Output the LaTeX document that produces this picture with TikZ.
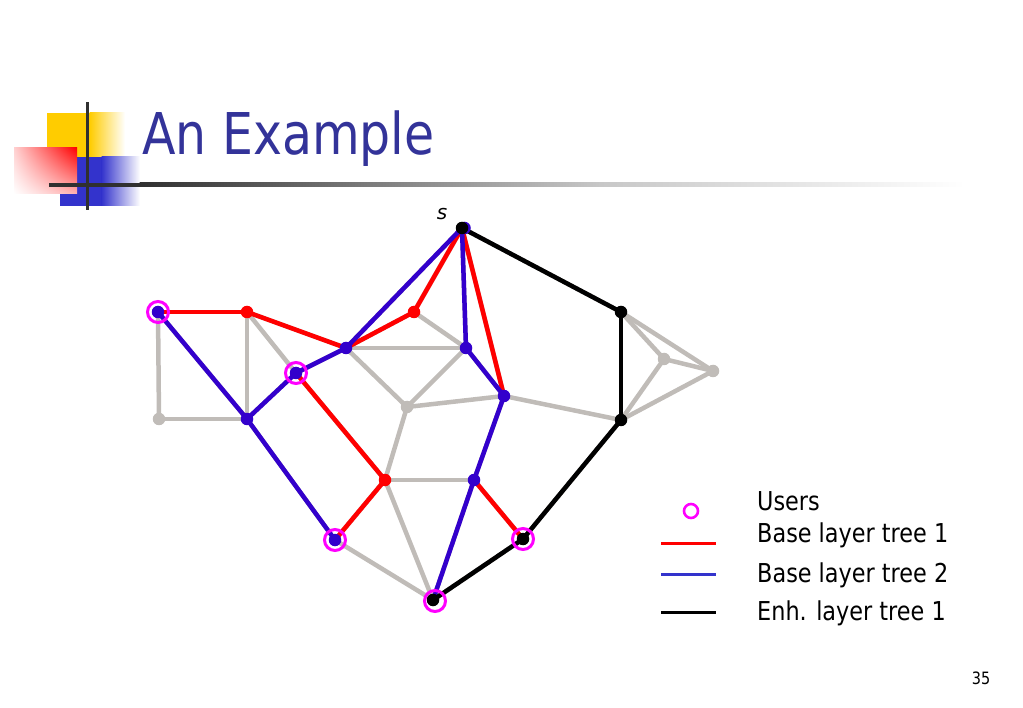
\documentclass[tikz,border=0pt]{standalone}
\usepackage{fontspec}
\setmainfont{DejaVu Sans}
\usetikzlibrary{calc,shadings}
\definecolor{ttl}{RGB}{51,51,153}
\definecolor{tblue}{RGB}{51,0,204}
\definecolor{tgray}{RGB}{192,188,184}
\definecolor{tyel}{RGB}{255,204,0}
\definecolor{dblue}{RGB}{51,51,204}
\definecolor{dline}{RGB}{48,48,48}
\definecolor{tmag}{RGB}{255,0,255}
\definecolor{tred}{RGB}{255,0,0}
\pgfdeclarelayer{grayl}
\pgfdeclarelayer{coll}
\pgfsetlayers{grayl,coll,main}
\tikzset{
  gedge/.style={line width=4.5pt, tgray, xshift=1.4pt, yshift=-0.8pt},
  redge/.style={line width=4.5pt, tred},
  bedge/.style={line width=4.5pt, tblue},
  kedge/.style={line width=4.5pt, black},
  dot/.style={circle, inner sep=0pt, minimum size=12.5pt, draw=none},
  user/.style={circle, inner sep=0pt, minimum size=21pt, draw=tmag, line width=3pt},
  legtext/.style={anchor=base west, inner sep=0pt, font=\fontsize{26}{30}\selectfont},
}
\newcommand{\tsq}[2]{\scalebox{#1}[1]{#2}}
\begin{document}
\begin{tikzpicture}[x=1pt,y=-1pt]
\useasboundingbox (0,0) rectangle (1023,708);
% ---- title decoration
\fill[tyel] (47,113) rectangle (90,157);
\shade[left color=tyel, right color=white] (89.5,113) rectangle (125,157);
\fill[dblue] (60,157) rectangle (102,206);
\shade[left color=dblue, right color=white] (101.5,157) rectangle (140,206);
\shade[upper left=tred!18, upper right=tred, lower left=white, lower right=tred!30] (14,148) rectangle (77,194);
\fill[dline] (49,183) rectangle (140,187);
\shade[left color=dline, right color=black!22] (139.5,183) rectangle (600,187);
\shade[left color=black!22, right color=white] (599.5,183) rectangle (965,187);
\fill[dline] (85.5,102) rectangle (88.5,210);
\node[anchor=base west, inner sep=0pt, text=ttl, font=\fontsize{57.6}{60}\selectfont] (title) at (142,155) {\tsq{0.85}{An Example}};
% ---- nodes
\node[dot, fill=tblue] (sb) at (464.5,228) {};
\node[dot, fill=black] (s) at (462,228) {};
\node[anchor=base, inner sep=0pt, font=\fontsize{20}{24}\selectfont\itshape] (slab) at (442,220) {s};
\node[dot, fill=tblue] (A) at (158,312) {};
\node[dot, fill=tred] (B) at (247,312) {};
\node[dot, fill=tgray] (C) at (159,419) {};
\node[dot, fill=tblue] (D) at (247,419) {};
\node[dot, fill=tblue] (E) at (296,373) {};
\node[dot, fill=tblue] (F) at (346,348) {};
\node[dot, fill=tred] (G) at (414,312) {};
\node[dot, fill=tblue] (H) at (466,348) {};
\node[dot, fill=tgray] (I) at (407,407) {};
\node[dot, fill=tblue] (J) at (504,396) {};
\node[dot, fill=tred] (K) at (385,480) {};
\node[dot, fill=tblue] (L) at (474,480) {};
\node[dot, fill=tblue] (M) at (335,540) {};
\node[dot, fill=black] (N) at (433,600) {};
\node[dot, fill=black] (O) at (523,539) {};
\node[dot, fill=black] (P) at (621,312) {};
\node[dot, fill=black] (Q) at (621,420) {};
\node[dot, fill=tgray] (R) at (664,359) {};
\node[dot, fill=tgray] (T) at (713,371) {};
% users
\node[user] (uA) at (A) {};
\node[user] (uE) at (E) {};
\node[user] (uM) at (M) {};
\node[user] (uN) at ($(N)+(2,1)$) {};
\node[user] (uO) at (O) {};
% ---- edges
\begin{pgfonlayer}{grayl}
\foreach \a/\b in {A/B,A/C,A/D,B/D,C/D,B/E,B/F,D/E,E/F,E/K,F/G,F/s,G/s,F/H,F/I,G/H,H/s,H/I,H/J,s/J,I/J,I/K,K/L,K/M,K/N,D/M,M/N,J/L,L/N,L/O,N/O,O/Q,J/Q,s/P,P/Q,P/R,P/T,Q/R,Q/T,R/T}
  \draw[gedge] (\a.center) -- (\b.center);
\end{pgfonlayer}
\begin{pgfonlayer}{coll}
\foreach \a/\b in {A/B,B/F,F/G,G/s,s/J,E/K,K/M,L/O}
  \draw[redge] (\a.center) -- (\b.center);
\foreach \a/\b in {A/D,D/E,E/F,F/s,s/H,H/J,J/L,L/N,D/M}
  \draw[bedge] (\a.center) -- (\b.center);
\foreach \a/\b in {s/P,P/Q,Q/O,O/N}
  \draw[kedge] (\a.center) -- (\b.center);
\end{pgfonlayer}
% ---- legend
\node[circle, inner sep=0pt, minimum size=14pt, draw=tmag, line width=2.6pt] (lu) at (691,511) {};
\coordinate (r1) at (661,543); \coordinate (r2) at (716,543);
\coordinate (b1) at (661,574); \coordinate (b2) at (716,574);
\coordinate (k1) at (661,612); \coordinate (k2) at (716,612);
\draw[line width=3pt, tred] (r1) -- (r2);
\draw[line width=3pt, dblue] (b1) -- (b2);
\draw[line width=3pt, black] (k1) -- (k2);
\node[legtext] (t1) at (757,510) {\tsq{0.86}{Users}};
\node[legtext] (t2) at (757,542) {\tsq{0.86}{Base layer tree 1}};
\node[legtext] (t3) at (757,582) {\tsq{0.86}{Base layer tree 2}};
\node[legtext] (t4) at (757,620) {\tsq{0.86}{Enh. layer tree 1}};
\node[anchor=base, inner sep=0pt, font=\fontsize{17}{20}\selectfont] (pg) at (981,684) {\tsq{0.85}{35}};
\end{tikzpicture}
\end{document}
